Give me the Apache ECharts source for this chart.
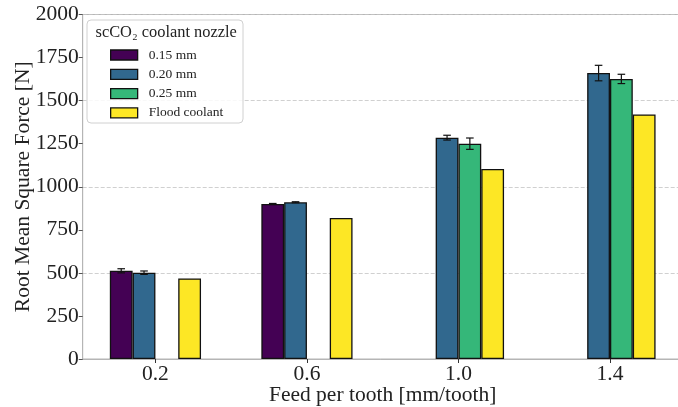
<!DOCTYPE html>
<html>
<head>
<meta charset="utf-8">
<script src="https://cdn.jsdelivr.net/npm/echarts@6/dist/echarts.min.js"></script>
<style>html,body{margin:0;padding:0;background:#fff}#c{width:678px;height:407px}</style>
</head>
<body>
<div id="c"></div>
<script>
const feeds = [0.2, 0.6, 1.0, 1.4];
const tickLabels = ['0.2', '0.6', '1.0', '1.4'];
const seriesNames = ['0.15 mm', '0.20 mm', '0.25 mm', 'Flood coolant'];
const nozzle015 = [512, 900, null, null];
const nozzle020 = [501, 910, 1285, 1660];
const nozzle025 = [null, null, 1250, 1626];
const flood = [468, 819, 1103, 1420];
const err015 = [12, 3, null, null];
const err020 = [10, 3, 14, 45];
const err025 = [null, null, 33, 27];
const errFlood = [null, null, null, null];
const colors = ['#440154', '#31688e', '#35b779', '#fde725'];

const values = [nozzle015, nozzle020, nozzle025, flood];
const errs = [err015, err020, err025, errFlood];
const BARPX = 22.8;
const font = 'Liberation Serif';
const FS = 21.5;

const series = values.map((arr, i) => ({
  name: seriesNames[i],
  type: 'bar',
  barWidth: BARPX,
  barGap: '0%',
  itemStyle: { color: colors[i], borderColor: '#111', borderWidth: 1.3 },
  data: arr.map((v, j) => v == null ? null : [feeds[j], v]).filter(d => d),
  z: 2
}));

const errData = [];
errs.forEach((arr, i) => arr.forEach((e, j) => {
  if (e != null && values[i][j] != null) errData.push([feeds[j], values[i][j] - e, values[i][j] + e, i]);
}));

series.push({
  type: 'custom',
  name: 'err',
  z: 2.5,
  silent: true,
  renderItem: function (params, api) {
    const x = api.value(0), lo = api.value(1), hi = api.value(2), idx = api.value(3);
    const off = (idx - 1.5) * BARPX;
    const p1 = api.coord([x, lo]), p2 = api.coord([x, hi]);
    const cx = p1[0] + off, hw = 3.8;
    const st = { stroke: '#111', lineWidth: 1.2 };
    return { type: 'group', children: [
      { type: 'line', shape: { x1: cx, y1: p1[1], x2: cx, y2: p2[1] }, style: st },
      { type: 'line', shape: { x1: cx - hw, y1: p1[1], x2: cx + hw, y2: p1[1] }, style: st },
      { type: 'line', shape: { x1: cx - hw, y1: p2[1], x2: cx + hw, y2: p2[1] }, style: st }
    ]};
  },
  encode: { x: 0, y: [1, 2] },
  data: errData
});

const chart = echarts.init(document.getElementById('c'), null, { renderer: 'canvas' });
chart.setOption({
  animation: false,
  backgroundColor: '#fff',
  grid: { left: 82.7, right: -4.7, top: 14.5, bottom: 48, show: true, borderColor: '#b5b5b5', borderWidth: 1, containLabel: false, outerBoundsMode: 'none' },
  xAxis: {
    type: 'value', min: 0.008, max: 1.592,
    splitLine: { show: false },
    axisLine: { show: true, lineStyle: { color: '#b5b5b5' } },
    axisTick: { show: true, customValues: feeds, length: 4, lineStyle: { color: '#333' } },
    axisLabel: { customValues: feeds, formatter: v => tickLabels[feeds.indexOf(Math.round(v * 10) / 10)] ?? '', fontFamily: font, fontSize: FS, color: '#222', margin: 4 },
    name: 'Feed per tooth [mm/tooth]', nameLocation: 'middle', nameGap: 25, nameMoveOverlap: false,
    nameTextStyle: { fontFamily: font, fontSize: FS, color: '#222' }
  },
  yAxis: [{
    type: 'value', min: 0, max: 2000, interval: 250,
    splitLine: { show: false },
    axisLine: { show: true, lineStyle: { color: '#b5b5b5' } },
    axisTick: { show: true, length: 4, lineStyle: { color: '#555' } },
    axisLabel: { formatter: v => String(v), fontFamily: font, fontSize: FS, color: '#222', margin: 4 },
    name: 'Root Mean Square Force [N]', nameLocation: 'middle', nameGap: 48, nameMoveOverlap: false,
    nameTextStyle: { fontFamily: font, fontSize: FS, color: '#222' }
  }, {
    type: 'value', min: 0, max: 2000, interval: 500, position: 'left',
    axisLine: { show: false }, axisTick: { show: false }, axisLabel: { show: false },
    splitLine: { show: true, lineStyle: { color: '#c4c4c4', type: [4, 2], width: 0.8 } }
  }],
  legend: {
    data: seriesNames,
    orient: 'vertical', left: 105, top: 43, z: 10,
    itemWidth: 27, itemHeight: 10, itemGap: 5.3,
    icon: 'rect',
    itemStyle: { borderColor: '#111', borderWidth: 1.3 },
    textStyle: { fontFamily: font, fontSize: 13.5, color: '#222', lineHeight: 14, padding: [0, 0, 0, 6] },
    selectedMode: false
  },
  graphic: [
    { type: 'rect', z: 5, shape: { x: 87, y: 20, width: 156, height: 103, r: 4 }, style: { fill: 'rgba(255,255,255,0.85)', stroke: '#d0d0d0', lineWidth: 1 } },
    { type: 'text', z: 11, style: { x: 95.5, y: 33, text: 'scCO₂ coolant nozzle', fontFamily: font, fontSize: 16.4, fill: '#222', verticalAlign: 'middle' } }
  ],
  color: colors,
  series: series
});
</script>
</body>
</html>
